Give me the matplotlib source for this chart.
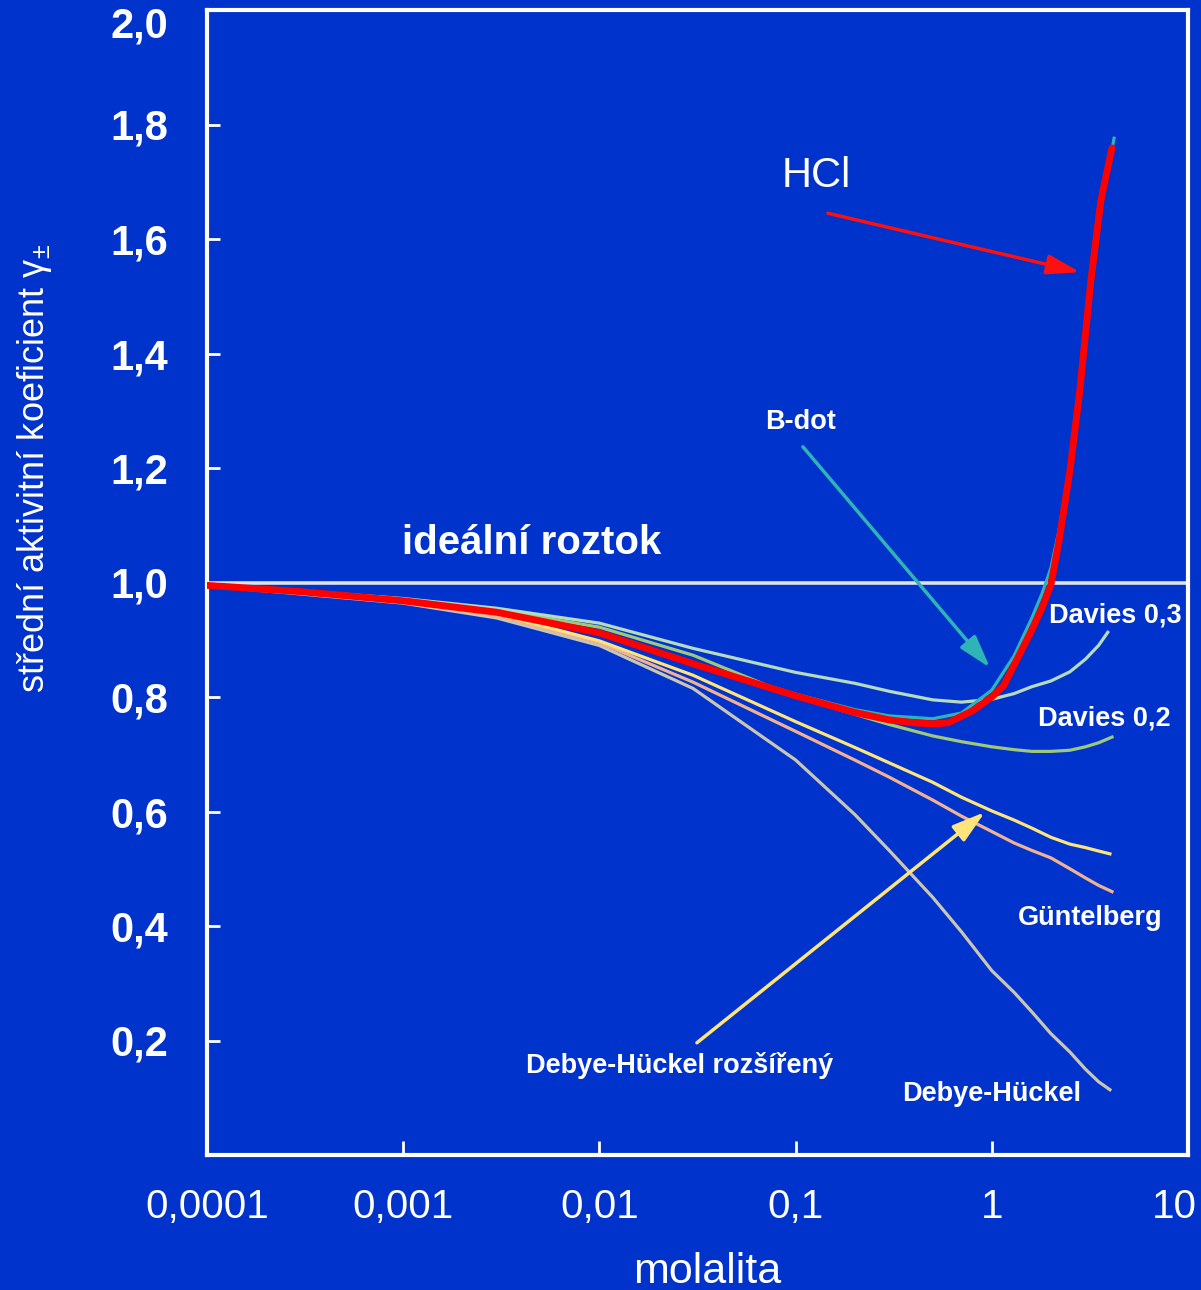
import matplotlib
matplotlib.use('Agg')
import matplotlib.pyplot as plt
from matplotlib.transforms import ScaledTranslation

plt.rcParams['font.family'] = ['Liberation Sans', 'DejaVu Sans']
plt.rcParams['mathtext.fontset'] = 'custom'
plt.rcParams['mathtext.rm'] = 'Liberation Sans'
plt.rcParams['mathtext.it'] = 'Liberation Sans'

bg = '#0033cc'

# molalita a koeficienty
m_std = [0.0001, 0.0003, 0.001, 0.003, 0.01, 0.03, 0.1, 0.2, 0.3, 0.5, 0.7,
         1.0, 1.3, 1.6, 2.0, 2.5, 3.0, 3.5]

m_hcl = [0.0001, 0.0003, 0.001, 0.003, 0.01, 0.03, 0.1, 0.2, 0.3, 0.4, 0.5, 0.6,
         0.8, 1.0, 1.15, 1.3, 1.6, 1.8, 2.0, 2.2, 2.5, 2.8, 3.2, 3.6, 4.1]
g_hcl = [0.995, 0.984, 0.968, 0.948, 0.912, 0.858, 0.802, 0.773, 0.760, 0.755, 0.753, 0.755,
         0.776, 0.800, 0.820, 0.856, 0.917, 0.955, 0.996, 1.072, 1.195, 1.331, 1.528, 1.668, 1.759]

m_bdot = [0.0001, 0.0003, 0.001, 0.003, 0.01, 0.03, 0.1, 0.2, 0.3, 0.5, 0.7,
          1.0, 1.3, 1.6, 1.8, 2.0, 2.2, 2.5, 2.8, 3.2, 3.6, 4.2]
g_bdot = [0.995, 0.984, 0.968, 0.948, 0.913, 0.860, 0.805, 0.778, 0.767, 0.762, 0.772,
          0.812, 0.872, 0.938, 0.980, 1.025, 1.090, 1.205, 1.330, 1.510, 1.655, 1.776]

m_dav3 = m_std + [3.9]
g_dav3 = [0.996, 0.985, 0.972, 0.955, 0.929, 0.885, 0.843, 0.824, 0.810, 0.795, 0.791,
          0.796, 0.806, 0.818, 0.828, 0.844, 0.866, 0.890, 0.913]

m_dav2 = m_std + [4.1]
g_dav2 = [0.996, 0.985, 0.971, 0.952, 0.922, 0.873, 0.800, 0.770, 0.752, 0.732, 0.722,
          0.713, 0.708, 0.705, 0.705, 0.707, 0.713, 0.720, 0.730]

m_dhr = m_std + [4.0]
g_dhr = [0.995, 0.983, 0.966, 0.945, 0.898, 0.838, 0.757, 0.712, 0.685, 0.651, 0.625,
         0.601, 0.585, 0.571, 0.555, 0.543, 0.537, 0.531, 0.526]

m_gun = m_std + [4.1]
g_gun = [0.995, 0.982, 0.965, 0.942, 0.895, 0.826, 0.740, 0.690, 0.660, 0.620, 0.592,
         0.565, 0.545, 0.532, 0.519, 0.500, 0.484, 0.471, 0.460]

m_dh = m_std + [4.0]
g_dh = [0.994, 0.980, 0.964, 0.938, 0.890, 0.815, 0.690, 0.595, 0.532, 0.450, 0.390,
        0.322, 0.284, 0.250, 0.212, 0.180, 0.150, 0.128, 0.114]

x_ticks = [0.0001, 0.001, 0.01, 0.1, 1, 10]
x_labels = ['0,0001', '0,001', '0,01', '0,1', '1', '10']
y_ticks = [0.2, 0.4, 0.6, 0.8, 1.0, 1.2, 1.4, 1.6, 1.8, 2.0]
y_labels = ['0,2', '0,4', '0,6', '0,8', '1,0', '1,2', '1,4', '1,6', '1,8', '2,0']

fig = plt.figure(figsize=(12.01, 12.90), dpi=100, facecolor=bg)
ax = fig.add_axes([207/1201, 1 - 1155/1290, (1188-207)/1201, (1155-10)/1290])
ax.set_facecolor(bg)
ax.set_xscale('log')
ax.set_xlim(0.0001, 10)
ax.set_ylim(0, 2.0)

# ideální roztok
ax.axhline(1.0, color='#dde3ef', lw=2.6, zorder=1)

ax.plot(m_dh, g_dh, color='#cbc6b2', lw=2.3, zorder=2)
ax.plot(m_gun, g_gun, color='#f2b292', lw=2.3, zorder=2)
ax.plot(m_dhr, g_dhr, color='#ffe47c', lw=2.3, zorder=2)
ax.plot(m_dav2, g_dav2, color='#9fc87a', lw=2.3, zorder=2)
ax.plot(m_dav3, g_dav3, color='#b6dbbf', lw=2.3, zorder=2)
ax.plot(m_bdot, g_bdot, color='#2fb4b6', lw=2.3, zorder=3)
ax.plot(m_hcl, g_hcl, color='#ff0000', lw=5, zorder=4,
        solid_joinstyle='round', solid_capstyle='round')

for s in ax.spines.values():
    s.set_color('white')
    s.set_linewidth(3)

ax.set_xticks(x_ticks)
ax.set_xticklabels(x_labels)
ax.minorticks_off()
ax.set_yticks(y_ticks)
ax.set_yticklabels(y_labels)
ax.tick_params(axis='x', direction='in', length=10, width=2, color='white',
               labelcolor='white', labelsize=29, pad=24)
ax.tick_params(axis='y', direction='in', length=9, width=2, color='white',
               labelcolor='white', labelsize=30, pad=28)
for lbl in ax.get_yticklabels():
    lbl.set_fontweight('bold')
top = ax.get_yticklabels()[-1]
top.set_transform(top.get_transform() + ScaledTranslation(0, -0.12, fig.dpi_scale_trans))
last = ax.get_xticklabels()[-1]
last.set_transform(last.get_transform() + ScaledTranslation(-0.14, 0, fig.dpi_scale_trans))

# popisky
txt = dict(color='white', ha='center', va='center')
ax.text(0.127, 1.71, 'HCl', fontsize=30, **txt)
ax.text(0.00454, 1.069, 'ideální roztok', fontsize=29, fontweight='bold', **txt)
small = dict(fontsize=19.5, fontweight='bold', **txt)
ax.text(0.106, 1.28, 'B-dot', **small)
ax.text(4.25, 0.943, 'Davies 0,3', **small)
ax.text(3.73, 0.763, 'Davies 0,2', **small)
ax.text(3.16, 0.414, 'Güntelberg', **small)
ax.text(0.0255, 0.157, 'Debye-Hückel rozšířený', **small)
ax.text(1.0, 0.106, 'Debye-Hückel', **small)

# šipky
arrow = '-|>,head_length=2.0,head_width=0.6'
ax.annotate('', xy=(2.82, 1.542), xytext=(0.146, 1.645),
            arrowprops=dict(arrowstyle=arrow, color='#ff1010', lw=2.5, shrinkA=0, shrinkB=0))
ax.annotate('', xy=(0.98, 0.851), xytext=(0.109, 1.237),
            arrowprops=dict(arrowstyle=arrow, color='#2fb4b6', lw=2.5, shrinkA=0, shrinkB=0))
ax.annotate('', xy=(0.923, 0.599), xytext=(0.0314, 0.196),
            arrowprops=dict(arrowstyle=arrow, color='#ffe47c', lw=2.5, shrinkA=0, shrinkB=0))

fig.text(35/1201, 1 - 468/1290, 'střední aktivitní koeficient γ$_{\\pm}$',
         rotation=90, color='white', fontsize=26, ha='center', va='center')
fig.text(707/1201, 1 - 1272/1290, 'molalita', color='white', fontsize=31,
         ha='center', va='center')

fig.savefig('out.png', dpi=100, facecolor=bg)
